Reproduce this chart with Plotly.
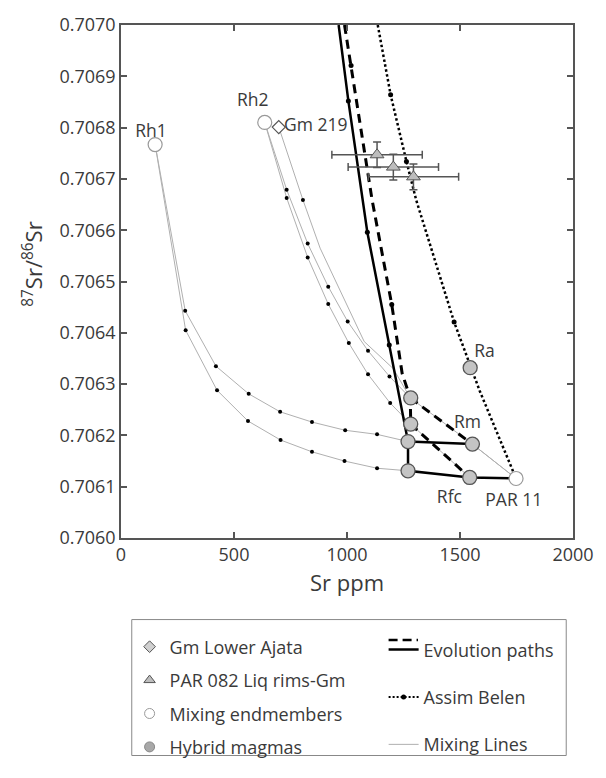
import plotly.graph_objects as go

# ---------------- data ----------------
# Mixing endmembers
end_names = ["Rh1", "Rh2", "PAR 11"]
end_x = [151, 636, 1748]
end_y = [0.706767, 0.706810, 0.706116]

# Gm Lower Ajata
gm_x = [698]
gm_y = [0.706801]

# PAR 082 Liq rims-Gm (with errors)
par_x = [1133, 1205, 1294]
par_y = [0.706747, 0.706723, 0.706704]
par_xerr = [200, 200, 200]
par_yerr = [0.000025, 0.000025, 0.000025]

# Hybrid magmas
hyb_x = [1282, 1282, 1270, 1270, 1555, 1543, 1545]
hyb_y = [0.706273, 0.706222, 0.706188, 0.706131, 0.706183, 0.706118, 0.706332]

# Mixing lines (thin grey) with tick dots
mixA_x = [636, 733, 826, 917, 1003, 1093, 1188, 1280, 1555, 1748]
mixA_y = [0.706810, 0.706679, 0.706574, 0.706490, 0.706422, 0.706365, 0.706315, 0.706273, 0.706183, 0.706116]
mixB_x = [636, 733, 826, 917, 1008, 1093, 1191, 1282, 1543, 1748]
mixB_y = [0.706810, 0.706663, 0.706547, 0.706456, 0.706380, 0.706319, 0.706263, 0.706222, 0.706118, 0.706116]
mixC_x = [698, 805, 881, 1076, 1205, 1280]
mixC_y = [0.706801, 0.706659, 0.706565, 0.706383, 0.706330, 0.706273]
mixD_x = [151, 284, 420, 565, 704, 845, 992, 1133, 1270, 1555, 1748]
mixD_y = [0.706767, 0.706443, 0.706335, 0.706281, 0.706246, 0.706226, 0.706210, 0.706202, 0.706188, 0.706183, 0.706116]
mixE_x = [151, 286, 425, 562, 706, 845, 989, 1133, 1270, 1543, 1748]
mixE_y = [0.706767, 0.706405, 0.706288, 0.706228, 0.706191, 0.706168, 0.706150, 0.706136, 0.706131, 0.706118, 0.706116]

mixdot_x = [733, 826, 917, 1003, 1093, 1188,
            733, 826, 917, 1008, 1093, 1191,
            805,
            284, 420, 565, 704, 845, 992, 1133,
            286, 425, 562, 706, 845, 989, 1133]
mixdot_y = [0.706679, 0.706574, 0.706490, 0.706422, 0.706365, 0.706315,
            0.706663, 0.706547, 0.706456, 0.706380, 0.706319, 0.706263,
            0.706659,
            0.706443, 0.706335, 0.706281, 0.706246, 0.706226, 0.706210, 0.706202,
            0.706405, 0.706288, 0.706228, 0.706191, 0.706168, 0.706150, 0.706136]

# Evolution paths
evo_solid_x = [963, 1006, 1090, 1187, 1270, 1270, 1543, 1748]
evo_solid_y = [0.70700, 0.706852, 0.706596, 0.706376, 0.706188, 0.706131, 0.706118, 0.706116]
evo_solid2_x = [1270, 1555]
evo_solid2_y = [0.706188, 0.706183]
evo_dash_x = [989, 1018, 1111, 1198, 1244, 1280, 1282, 1543]
evo_dash_y = [0.70700, 0.706921, 0.706659, 0.706455, 0.706321, 0.706273, 0.706222, 0.706118]
evo_dash2_x = [1280, 1555]
evo_dash2_y = [0.706273, 0.706183]
evo_dot_x = [1006, 1090, 1187, 1018, 1198]
evo_dot_y = [0.706852, 0.706596, 0.706376, 0.706921, 0.706455]

# Assimilation Belen
assim_x = [1136, 1193, 1263, 1306, 1474, 1587, 1748]
assim_y = [0.70700, 0.706864, 0.706734, 0.706659, 0.706421, 0.706287, 0.706116]
assim_dot_x = [1193, 1263, 1474]
assim_dot_y = [0.706864, 0.706734, 0.706421]

# point labels
lab_text = ["Rh1", "Rh2", "Gm 219", "Ra", "Rm", "Rfc", "PAR 11"]
lab_x = [133, 583, 862, 1608, 1533, 1453, 1738]
lab_y = [0.706790, 0.706850, 0.706802, 0.706361, 0.706223, 0.706077, 0.706071]

x_ticks = [0, 500, 1000, 1500, 2000]
y_ticks = [0.7060, 0.7061, 0.7062, 0.7063, 0.7064, 0.7065, 0.7066, 0.7067, 0.7068, 0.7069, 0.7070]

FONT = "Open Sans"
TXT = "#3a3a3a"
GREY = "#b0b0b0"

fig = go.Figure()

for mx, my in [(mixA_x, mixA_y), (mixB_x, mixB_y), (mixC_x, mixC_y), (mixD_x, mixD_y), (mixE_x, mixE_y)]:
    fig.add_trace(go.Scatter(x=mx, y=my, mode="lines", line=dict(color=GREY, width=1),
                             showlegend=False, hoverinfo="skip"))
fig.add_trace(go.Scatter(x=mixdot_x, y=mixdot_y, mode="markers",
                         marker=dict(color="black", size=4), showlegend=False, hoverinfo="skip"))

# evolution paths
fig.add_trace(go.Scatter(x=evo_solid_x, y=evo_solid_y, mode="lines",
                         line=dict(color="black", width=2.5), showlegend=False))
fig.add_trace(go.Scatter(x=evo_solid2_x, y=evo_solid2_y, mode="lines",
                         line=dict(color="black", width=2.5), showlegend=False))
fig.add_trace(go.Scatter(x=evo_dash_x, y=evo_dash_y, mode="lines",
                         line=dict(color="black", width=3, dash="9px,6px"), showlegend=False))
fig.add_trace(go.Scatter(x=evo_dash2_x, y=evo_dash2_y, mode="lines",
                         line=dict(color="black", width=3, dash="9px,6px"), showlegend=False))
fig.add_trace(go.Scatter(x=evo_dot_x, y=evo_dot_y, mode="markers",
                         marker=dict(color="black", size=5), showlegend=False))

# assimilation
fig.add_trace(go.Scatter(x=assim_x, y=assim_y, mode="lines",
                         line=dict(color="black", width=2.5, dash="2.5px,2.5px"), showlegend=False))
fig.add_trace(go.Scatter(x=assim_dot_x, y=assim_dot_y, mode="markers",
                         marker=dict(color="black", size=5), showlegend=False))

# PAR 082
fig.add_trace(go.Scatter(x=par_x, y=par_y, mode="markers",
                         marker=dict(symbol="triangle-up", size=12, color="#bdbdbd",
                                     line=dict(color="#555", width=1)),
                         error_x=dict(type="data", array=par_xerr, color="#555", thickness=1.5, width=4),
                         error_y=dict(type="data", array=par_yerr, color="#555", thickness=1.5, width=4),
                         showlegend=False))
# Gm
fig.add_trace(go.Scatter(x=gm_x, y=gm_y, mode="markers", showlegend=False,
                         marker=dict(symbol="diamond", size=10, color="white",
                                     line=dict(color="#555", width=1.2))))
# endmembers
fig.add_trace(go.Scatter(x=end_x, y=end_y, mode="markers", showlegend=False,
                         marker=dict(symbol="circle", size=14, color="white",
                                     line=dict(color="#999", width=1.2))))
# hybrids
fig.add_trace(go.Scatter(x=hyb_x, y=hyb_y, mode="markers", showlegend=False,
                         marker=dict(symbol="circle", size=14, color="#c4c4c4",
                                     line=dict(color="#555", width=1.3))))

# labels
fig.add_trace(go.Scatter(x=lab_x, y=lab_y, mode="text", text=lab_text,
                         textfont=dict(family=FONT, size=17.5, color=TXT),
                         showlegend=False, hoverinfo="skip"))

# ---------------- legend entries ----------------
leg_font = dict(family=FONT, size=18, color=TXT)
fig.add_trace(go.Scatter(x=[None], y=[None], mode="markers", name="Gm Lower Ajata",
                         marker=dict(symbol="diamond", size=9, color="#d0d0d0", line=dict(color="#555", width=1)),
                         legend="legend", legendgroup="a"))
fig.add_trace(go.Scatter(x=[None], y=[None], mode="markers", name="PAR 082 Liq rims-Gm",
                         marker=dict(symbol="triangle-up", size=10, color="#bdbdbd", line=dict(color="#555", width=1)),
                         legend="legend", legendgroup="b"))
fig.add_trace(go.Scatter(x=[None], y=[None], mode="markers", name="Mixing endmembers",
                         marker=dict(symbol="circle", size=10, color="white", line=dict(color="#999", width=1)),
                         legend="legend", legendgroup="c"))
fig.add_trace(go.Scatter(x=[None], y=[None], mode="markers", name="Hybrid magmas",
                         marker=dict(symbol="circle", size=10, color="#a8a8a8", line=dict(color="#888", width=1)),
                         legend="legend", legendgroup="d"))
fig.add_trace(go.Scatter(x=[None], y=[None], mode="lines", name="Evolution paths",
                         line=dict(color="black", width=2.5), legend="legend2", legendgroup="e"))
fig.add_trace(go.Scatter(x=[None], y=[None], mode="lines+markers", name="Assim Belen",
                         line=dict(color="black", width=2, dash="2px,2px"),
                         marker=dict(color="black", size=5, symbol="circle"),
                         legend="legend2", legendgroup="f"))
fig.add_trace(go.Scatter(x=[None], y=[None], mode="lines", name="Mixing Lines",
                         line=dict(color=GREY, width=1), legend="legend2", legendgroup="g"))

axis_common = dict(showline=True, linecolor="#555", linewidth=1.5, mirror="ticks",
                   ticks="inside", ticklen=6, tickwidth=1.5, tickcolor="#555",
                   showgrid=False, zeroline=False,
                   tickfont=dict(family=FONT, size=18, color=TXT))

fig.update_layout(
    width=606, height=778,
    margin=dict(l=121, r=22, t=18, b=227),
    paper_bgcolor="white", plot_bgcolor="white",
    font=dict(family=FONT, color=TXT),
    xaxis=dict(range=[0, 2000], tickvals=x_ticks, **axis_common,
               title=dict(text="Sr ppm", font=dict(family=FONT, size=22, color=TXT), standoff=10)),
    yaxis=dict(range=[0.7060, 0.7070], tickvals=y_ticks, tickformat=".4f", **axis_common),
    legend=dict(x=0.019, y=-0.1764, xanchor="left", yanchor="top", font=leg_font,
                bgcolor="rgba(0,0,0,0)", tracegroupgap=7, itemwidth=30),
    legend2=dict(x=0.581, y=-0.182, xanchor="left", yanchor="top", font=leg_font,
                 bgcolor="rgba(0,0,0,0)", tracegroupgap=21, itemwidth=30),
    shapes=[
        dict(type="rect", xref="paper", yref="paper", x0=0.0238, x1=0.985, y0=-0.424, y1=-0.159,
             line=dict(color="#888", width=1)),
        dict(type="line", xref="paper", yref="paper", x0=0.592, x1=0.657, y0=-0.199, y1=-0.199,
             line=dict(color="black", width=2.5, dash="9px,5px")),
    ],
    annotations=[
        dict(text="<sup>87</sup>Sr/<sup>86</sup>Sr", xref="paper", yref="paper",
             x=-0.1965, y=0.533, textangle=-90, showarrow=False,
             font=dict(family=FONT, size=22, color=TXT), xanchor="center", yanchor="middle"),
    ],
    showlegend=True,
)

fig.write_html("out.html")
